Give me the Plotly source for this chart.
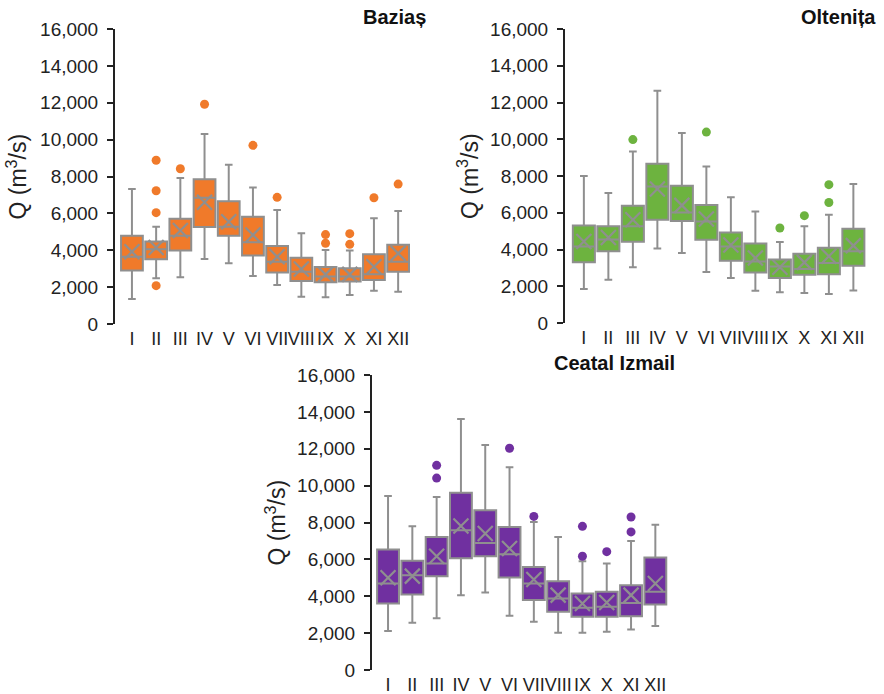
import plotly.graph_objects as go

months = ["I", "II", "III", "IV", "V", "VI", "VII", "VIII", "IX", "X", "XI", "XII"]
y_ticks = [0, 2000, 4000, 6000, 8000, 10000, 12000, 14000, 16000]

# ---- Baziaș ----
baz_low = [1360, 2480, 2530, 3530, 3290, 2600, 2120, 1480, 1450, 1570, 1810, 1750]
baz_q1 = [2900, 3510, 3980, 5260, 4790, 3710, 2790, 2330, 2260, 2300, 2390, 2840]
baz_med = [3650, 4050, 4780, 6850, 5280, 4430, 3380, 2840, 2570, 2570, 2700, 3380]
baz_mean = [3920, 4150, 5070, 6600, 5550, 4830, 3650, 2980, 2690, 2690, 3110, 3830]
baz_q3 = [4790, 4470, 5710, 7850, 6660, 5820, 4230, 3600, 3090, 3020, 3780, 4300]
baz_high = [7320, 5280, 7920, 10300, 8640, 7410, 6180, 4920, 4010, 3980, 5730, 6130]
baz_out_x = ["II", "II", "II", "II", "III", "IV", "VI", "VII", "IX", "IX", "X", "X", "XI", "XII"]
baz_out_y = [8880, 7230, 6040, 2080, 8420, 11920, 9690, 6870, 4850, 4380, 4900, 4320, 6850, 7590]

# ---- Oltenița ----
olt_low = [1850, 2360, 3030, 4060, 3810, 2780, 2450, 1760, 1670, 1630, 1580, 1770]
olt_q1 = [3300, 3900, 4420, 5620, 5550, 4530, 3390, 2750, 2450, 2630, 2650, 3120]
olt_med = [4170, 4550, 5260, 7430, 6020, 5530, 4170, 3350, 3080, 2940, 3270, 3900]
olt_mean = [4440, 4650, 5620, 7290, 6400, 5660, 4250, 3540, 3030, 3300, 3630, 4210]
olt_q3 = [5310, 5260, 6380, 8670, 7470, 6420, 4930, 4320, 3450, 3770, 4100, 5130]
olt_high = [8000, 7080, 9340, 12640, 10340, 8520, 6840, 6070, 4410, 5260, 5890, 7560]
olt_out_x = ["III", "VI", "IX", "X", "XI", "XI"]
olt_out_y = [9980, 10390, 5170, 5840, 6560, 7530]

# ---- Ceatal Izmail ----
cea_low = [2110, 2560, 2800, 4060, 4200, 2940, 2620, 2020, 2020, 2080, 2200, 2380]
cea_q1 = [3610, 4100, 5090, 6060, 6170, 5020, 3790, 3160, 2890, 2890, 2920, 3550]
cea_med = [4690, 5140, 5770, 7580, 6890, 6280, 4690, 3880, 3370, 3430, 3640, 4240]
cea_mean = [5000, 5090, 6170, 7810, 7400, 6590, 4910, 4060, 3610, 3660, 4060, 4690]
cea_q3 = [6530, 5920, 7220, 9620, 8660, 7760, 5590, 4820, 4150, 4240, 4600, 6100]
cea_high = [9440, 7790, 9380, 13620, 12200, 11000, 8030, 7220, 5900, 5770, 7000, 7880]
cea_out_x = ["III", "III", "VI", "VII", "IX", "IX", "X", "XI", "XI"]
cea_out_y = [10410, 11100, 12030, 8330, 6170, 7790, 6420, 7490, 8300]

W, H = 884, 694
GRAY = "#8f8f8f"
AXC = "#222222"

panels = [
    dict(name="Baziaș", color="#F07A2A", low=baz_low, q1=baz_q1, med=baz_med, mean=baz_mean,
         q3=baz_q3, high=baz_high, ox=baz_out_x, oy=baz_out_y,
         ax_x=115, step=24.2, off=0.7, ytop=29, ybot=324, title_x=428, title_y=17, lab_x=17),
    dict(name="Oltenița", color="#6DB33F", low=olt_low, q1=olt_q1, med=olt_med, mean=olt_mean,
         q3=olt_q3, high=olt_high, ox=olt_out_x, oy=olt_out_y,
         ax_x=565, step=24.5, off=0.77, ytop=29, ybot=323, title_x=878, title_y=17, lab_x=468),
    dict(name="Ceatal Izmail", color="#7030A0", low=cea_low, q1=cea_q1, med=cea_med, mean=cea_mean,
         q3=cea_q3, high=cea_high, ox=cea_out_x, oy=cea_out_y,
         ax_x=372, step=24.3, off=0.66, ytop=375, ybot=670, title_x=677, title_y=363, lab_x=275),
]

fig = go.Figure()
annotations = []
layout_axes = {}
FONT = "Liberation Sans, Arial, sans-serif"

for i, p in enumerate(panels):
    idx = "" if i == 0 else str(i + 1)
    xa, ya = "x" + idx, "y" + idx
    xr = [-p["off"], 11 + 0.55]
    width_px = (xr[1] - xr[0]) * p["step"]
    x0 = p["ax_x"] / W
    x1 = (p["ax_x"] + width_px) / W
    y0 = 1 - p["ybot"] / H
    y1 = 1 - p["ytop"] / H

    fig.add_trace(go.Box(
        x=months, q1=p["q1"], median=p["med"], q3=p["q3"],
        lowerfence=p["low"], upperfence=p["high"],
        fillcolor=p["color"], line=dict(color=GRAY, width=2),
        width=0.9, whiskerwidth=0.35, boxpoints=False,
        xaxis=xa, yaxis=ya, showlegend=False, hoverinfo="skip"))
    fig.add_trace(go.Scatter(
        x=months, y=p["mean"], mode="markers",
        marker=dict(symbol="x-thin", size=15, line=dict(color=GRAY, width=2.2), color=GRAY),
        xaxis=xa, yaxis=ya, showlegend=False, hoverinfo="skip"))
    fig.add_trace(go.Scatter(
        x=p["ox"], y=p["oy"], mode="markers",
        marker=dict(symbol="circle", size=9, color=p["color"], line=dict(width=0)),
        xaxis=xa, yaxis=ya, showlegend=False, hoverinfo="skip", cliponaxis=False))

    layout_axes["xaxis" + idx] = dict(
        domain=[x0, x1], range=xr, type="category", categoryorder="array", categoryarray=months,
        anchor=ya, showline=False, showgrid=False, zeroline=False, ticks="", tickangle=0,
        automargin=False,
        tickfont=dict(size=18, color=AXC, family=FONT), ticklabelstandoff=2, fixedrange=True)
    layout_axes["yaxis" + idx] = dict(
        domain=[y0, y1], range=[0, 16000], tickvals=y_ticks, tickformat=",",
        anchor=xa, showline=True, linecolor=AXC, linewidth=2, ticks="outside", ticklen=6,
        tickwidth=2, tickcolor=AXC, showgrid=False, zeroline=False, automargin=False,
        tickfont=dict(size=19, color=AXC, family=FONT), ticklabelstandoff=5, fixedrange=True)

    annotations.append(dict(
        text="<b>" + p["name"] + "</b>", xref="paper", yref="paper",
        x=p["title_x"] / W, y=1 - p["title_y"] / H, xanchor="right", yanchor="middle",
        showarrow=False, font=dict(size=20, color="#111111", family=FONT)))
    annotations.append(dict(
        text="Q (m<sup>3</sup>/s)", xref="paper", yref="paper",
        x=p["lab_x"] / W, y=1 - (p["ytop"] + p["ybot"]) / 2 / H, xanchor="center", yanchor="middle",
        textangle=-90, showarrow=False, font=dict(size=23, color=AXC, family=FONT)))

fig.update_layout(
    width=W, height=H, margin=dict(l=0, r=0, t=0, b=0, pad=0, autoexpand=False),
    paper_bgcolor="white", plot_bgcolor="white",
    annotations=annotations, **layout_axes)

fig.write_html("out.html")
